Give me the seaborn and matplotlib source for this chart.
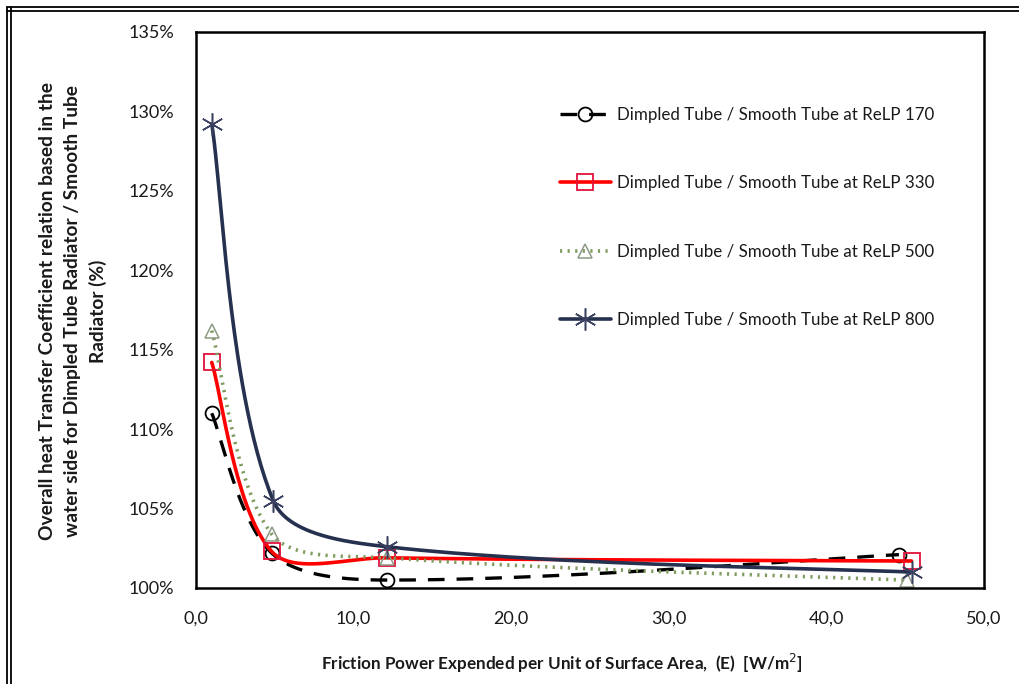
import numpy as np
import pandas as pd
import matplotlib
matplotlib.use("Agg")
import matplotlib.pyplot as plt
from matplotlib.lines import Line2D
from matplotlib.ticker import MultipleLocator, FuncFormatter
import seaborn as sns

# ---- data ----
labels = ["Dimpled Tube / Smooth Tube at ReLP 170",
          "Dimpled Tube / Smooth Tube at ReLP 330",
          "Dimpled Tube / Smooth Tube at ReLP 500",
          "Dimpled Tube / Smooth Tube at ReLP 800"]
x_170 = [1.0, 4.8, 12.1, 44.6]
y_170 = [1.110, 1.022, 1.005, 1.021]
x_330 = [1.0, 4.8, 12.1, 45.4]
y_330 = [1.142, 1.023, 1.019, 1.017]
x_500 = [1.0, 4.8, 12.1, 45.1]
y_500 = [1.162, 1.034, 1.019, 1.005]
x_800 = [1.0, 4.9, 12.1, 45.4]
y_800 = [1.292, 1.055, 1.026, 1.010]

XMIN, XMAX, YMIN, YMAX = 0, 50, 1.00, 1.35

sns.set_theme(style="white")
plt.rcParams['font.family'] = ['Lato', 'DejaVu Sans']

W, H = 1019, 684
fig = plt.figure(figsize=(W / 100, H / 100), dpi=100)
ax = fig.add_axes([196 / W, 1 - 588 / H, (984 - 196) / W, (588 - 32) / H])

NSEG = 60
AXW, AXH = 788.0, 556.0


def excel_smooth(xs, ys):
    # smoothed line: cubic Bezier segments in screen space, tangents scaled by chord length
    px = (np.asarray(xs) - XMIN) / (XMAX - XMIN) * AXW
    py = (np.asarray(ys) - YMIN) / (YMAX - YMIN) * AXH
    P = np.column_stack([px, py])
    Pe = np.vstack([P[0], P, P[-1]])
    t = np.linspace(0, 1, NSEG, endpoint=False)[:, None]
    out = []
    for i in range(len(P) - 1):
        p0, p1, p2, p3 = Pe[i], Pe[i + 1], Pe[i + 2], Pe[i + 3]
        d01 = np.linalg.norm(p1 - p0)
        d12 = np.linalg.norm(p2 - p1)
        d23 = np.linalg.norm(p3 - p2)
        a = d12 / (3 * (d01 + d12)) if d01 > 0 else 1 / 6
        b = d12 / (3 * (d12 + d23)) if d23 > 0 else 1 / 6
        c1 = p1 + (p2 - p0) * a
        c2 = p2 - (p3 - p1) * b
        seg = ((1 - t) ** 3) * p1 + 3 * ((1 - t) ** 2) * t * c1 + 3 * (1 - t) * t ** 2 * c2 + t ** 3 * p2
        out.append(seg)
    out.append(P[-1][None, :])
    S = np.vstack(out)
    sx = S[:, 0] / AXW * (XMAX - XMIN) + XMIN
    sy = S[:, 1] / AXH * (YMAX - YMIN) + YMIN
    return pd.DataFrame({"x": sx, "y": sy})


series = [
    (x_170, y_170, dict(color="black", lw=2.4, linestyle=(0, (5.0, 3.6)), marker="o",
                        ms=10, mew=1.3, mec="black")),
    (x_330, y_330, dict(color="#FF0000", lw=2.6, linestyle="-", marker="s",
                        ms=11, mew=1.3, mec="#E0103A")),
    (x_500, y_500, dict(color="#7E9A5C", lw=2.6, linestyle=(0, (0.6, 1.5)), marker="^",
                        ms=10, mew=1.1, mec="#8C9A84")),
    (x_800, y_800, dict(color="#26304F", lw=2.6, linestyle="-", marker=(6, 2, 0),
                        ms=16, mew=1.1, mec="#3A4060")),
]

for (xs, ys, st), lab in zip(series, labels):
    df = excel_smooth(xs, ys)
    sns.lineplot(data=df, x="x", y="y", ax=ax, sort=False, estimator=None,
                 color=st["color"], lw=st["lw"], linestyle=st["linestyle"],
                 marker=st["marker"], markevery=NSEG, ms=st["ms"], mew=st["mew"],
                 mec=st["mec"], mfc="none", label=lab, legend=False)

ax.set_xlim(XMIN, XMAX)
ax.set_ylim(YMIN, YMAX)
ax.xaxis.set_major_locator(MultipleLocator(10))
ax.xaxis.set_minor_locator(MultipleLocator(2))
ax.yaxis.set_major_locator(MultipleLocator(0.05))
ax.yaxis.set_minor_locator(MultipleLocator(0.01))
ax.xaxis.set_major_formatter(FuncFormatter(lambda v, p: f"{v:.1f}".replace(".", ",")))
ax.yaxis.set_major_formatter(FuncFormatter(lambda v, p: f"{v * 100:.0f}%"))
ax.tick_params(axis="both", which="both", direction="in", color="#555555", width=0.8,
               labelsize=13, labelcolor="#1a1a1a")
ax.tick_params(axis="both", which="major", length=5)
ax.tick_params(axis="both", which="minor", length=5)
ax.tick_params(axis="x", which="major", pad=16)
ax.tick_params(axis="y", which="major", pad=16)
for sp in ax.spines.values():
    sp.set_visible(True)
    sp.set_color("black")
    sp.set_linewidth(1.8)
ax.set_xlabel("")
ax.set_ylabel("")
ax.grid(False)

fig.text(562 / W, 1 - 663 / H, "Friction Power Expended per Unit of Surface Area,  (E)  [W/m$^{2}$]",
         ha="center", va="center", fontsize=12.3, fontweight="bold", color="#1a1a1a")
fig.text(73 / W, 1 - 311 / H,
         "Overall heat Transfer Coefficient relation based in the\n"
         "water side for Dimpled Tube Radiator / Smooth Tube\n"
         "Radiator (%)",
         ha="center", va="center", rotation=90, fontsize=13.8, fontweight="bold",
         color="#1a1a1a", linespacing=1.55)

leg = ax.legend(loc="upper left", bbox_to_anchor=((553 - 196) / AXW, 1 - (100 - 32) / AXH),
                frameon=False, fontsize=12.2, handlelength=3.0, handletextpad=0.35,
                labelspacing=3.1, borderaxespad=0, numpoints=1)
for t in leg.get_texts():
    t.set_color("#1a1a1a")

# double border round the figure
for off in (7, 11):
    fig.add_artist(Line2D([off / W, off / W], [0, 1 - 7 / H], transform=fig.transFigure,
                          color="black", lw=1.3))
for off in (7, 10.5):
    fig.add_artist(Line2D([7 / W, 1], [1 - off / H, 1 - off / H], transform=fig.transFigure,
                          color="black", lw=1.3))

fig.savefig("out.png", dpi=100, facecolor="white")
